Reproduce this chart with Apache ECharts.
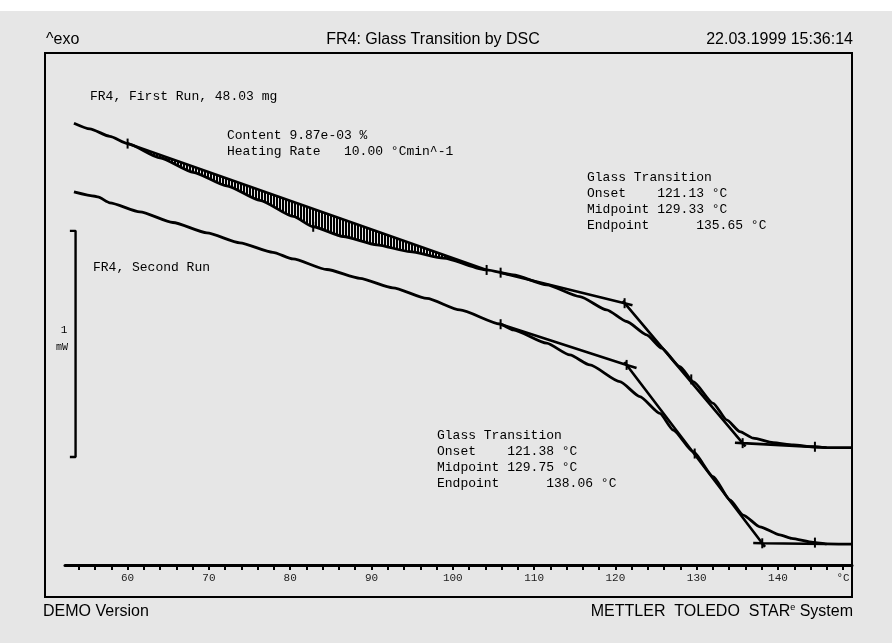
<!DOCTYPE html>
<html>
<head>
<meta charset="utf-8">
<script src="https://cdn.jsdelivr.net/npm/echarts@6/dist/echarts.min.js"></script>
<style>
  html, body { margin: 0; padding: 0; background: #e6e6e6; }
  #chart { width: 892px; height: 643px; }
</style>
</head>
<body>
<div id="chart"></div>
<script>
// ---- DSC heat-flow curves (temperature in °C, heat flow in mW, exo up) ----
const run1T  = [53.40, 55.36, 57.82, 60.00, 63.97, 68.07, 72.18, 76.27, 80.37, 82.83, 86.52, 90.63, 94.72, 98.82, 104.16,
                107.43, 111.54, 115.63, 118.92, 121.38, 123.84, 125.68, 127.93, 129.57, 132.03, 133.68, 135.31, 136.95,
                139.41, 141.87, 144.33, 145.98, 149.09];
const run1HF = [1.954, 1.929, 1.896, 1.864, 1.801, 1.737, 1.677, 1.613, 1.542, 1.496, 1.453, 1.416, 1.386, 1.357, 1.305,
                1.283, 1.239, 1.187, 1.128, 1.077, 1.018, 0.959, 0.877, 0.811, 0.715, 0.642, 0.590, 0.561,
                0.541, 0.531, 0.523, 0.519, 0.519];

const run2T  = [53.40, 55.98, 56.35, 57.82, 61.51, 65.57, 69.75, 73.81, 77.87, 80.33, 84.51, 88.57, 92.63, 96.81, 100.87,
                105.79, 107.43, 111.54, 114.40, 116.86, 120.55, 123.01, 125.47, 127.11, 129.57, 132.03, 134.08, 135.72,
                137.77, 140.23, 141.67, 144.33, 145.98, 149.09];
const run2HF = [1.650, 1.631, 1.628, 1.602, 1.562, 1.515, 1.469, 1.425, 1.383, 1.354, 1.307, 1.268, 1.226, 1.179, 1.128,
                1.066, 1.040, 0.981, 0.929, 0.885, 0.811, 0.745, 0.671, 0.597, 0.501, 0.391, 0.288, 0.221,
                0.169, 0.133, 0.118, 0.100, 0.093, 0.092];

// Content integration baseline on the first run
const integT  = [60.00, 104.16];
const integHF = [1.864, 1.305];

// Glass transition construction, first run (onset 121.13, midpoint 129.33, endpoint 135.65)
const gt1BaseT = [105.88, 121.13, 122.10];
const gt1BaseHF = [1.293, 1.158, 1.149];
const gt1TanT  = [120.90, 121.13, 135.65, 136.00];
const gt1TanHF = [1.168, 1.158, 0.539, 0.524];
const gt1EndT  = [134.70, 135.65, 145.98];
const gt1EndHF = [0.541, 0.539, 0.519];

// Glass transition construction, second run (onset 121.38, midpoint 129.75, endpoint 138.06)
const gt2BaseT = [105.88, 121.38, 122.60];
const gt2BaseHF = [1.065, 0.885, 0.871];
const gt2TanT  = [121.10, 121.38, 138.06, 138.40];
const gt2TanHF = [0.898, 0.885, 0.096, 0.080];
const gt2EndT  = [136.95, 138.06, 145.98];
const gt2EndHF = [0.097, 0.096, 0.093];

// Evaluation limit / characteristic point marks [T, HF]
const markPts = [
  [60.00, 1.864], [82.83, 1.496], [104.16, 1.305], [105.88, 1.293], [121.13, 1.158], [129.33, 0.821], [135.65, 0.539], [144.54, 0.523],
  [105.88, 1.065], [121.38, 0.885], [129.75, 0.493], [138.06, 0.096], [144.54, 0.099]
];

// 1 mW scale bar
const scaleT  = [52.90, 53.60, 53.60, 52.90];
const scaleHF = [1.478, 1.478, 0.478, 0.478];

// Temperature axis ticks and labels
const tickValues = [54, 56, 58, 60, 62, 64, 66, 68, 70, 72, 74, 76, 78, 80, 82, 84, 86, 88, 90, 92, 94, 96, 98, 100,
                    102, 104, 106, 108, 110, 112, 114, 116, 118, 120, 122, 124, 126, 128, 130, 132, 134, 136, 138,
                    140, 142, 144, 146, 148];
const labelValues = [60, 70, 80, 90, 100, 110, 120, 130, 140, 148];
const unitLabelAt = 148;

const zip = (a, b) => a.map((v, i) => [v, b[i]]);

// vertical hatch pattern for the integrated area
const hatch = document.createElement('canvas');
hatch.width = 3; hatch.height = 4;
const hctx = hatch.getContext('2d');
hctx.fillStyle = '#000';
hctx.fillRect(0, 0, 2, 4);

const MONO = "'Liberation Mono', 'Courier New', monospace";
const SANS = "'Liberation Sans', Arial, Helvetica, sans-serif";

function curve(t, hf, width, smooth) {
  return {
    type: 'line', data: zip(t, hf), showSymbol: false, smooth: smooth ? 0.2 : false,
    smoothMonotone: 'x', silent: true, animation: false, z: 3,
    lineStyle: { color: '#000', width: width }
  };
}

function txt(text, x, y, opts) {
  return {
    type: 'text', x: x, y: y, silent: true, z: 10,
    style: Object.assign({ text: text, font: '13px ' + MONO, fill: '#000', align: 'left', verticalAlign: 'middle' }, opts || {})
  };
}

const chart = echarts.init(document.getElementById('chart'));
chart.setOption({
  backgroundColor: '#e6e6e6',
  animation: false,
  grid: { left: 65, right: 40, top: 45, bottom: 78 },
  xAxis: {
    type: 'value', min: 52.3, max: 149.1,
    axisLine: { show: true, onZero: false, lineStyle: { color: '#000', width: 3 } },
    axisTick: { show: true, customValues: tickValues, length: 5, lineStyle: { color: '#000', width: 2 } },
    axisLabel: {
      customValues: labelValues, margin: 8, color: '#222', fontFamily: MONO, fontSize: 11,
      formatter: v => (v === unitLabelAt ? '°C' : String(v))
    },
    splitLine: { show: false }
  },
  yAxis: { type: 'value', min: 0, max: 2.3, show: false },
  series: [
    {
      type: 'custom', data: [[integT[0], integHF[0]]], silent: true, animation: false, z: 2,
      renderItem: (params, api) => {
        const pts = [];
        run1T.forEach((t, i) => {
          if (t >= integT[0] && t <= integT[1]) pts.push(api.coord([t, run1HF[i]]));
        });
        pts.push(api.coord([integT[1], integHF[1]]));
        pts.push(api.coord([integT[0], integHF[0]]));
        return { type: 'polygon', shape: { points: pts }, style: { fill: { image: hatch, repeat: 'repeat' }, stroke: null } };
      }
    },
    curve(run1T, run1HF, 2.8, true),
    curve(run2T, run2HF, 2.8, true),
    curve(integT, integHF, 2.6),
    curve(gt1BaseT, gt1BaseHF, 2.6),
    curve(gt1TanT, gt1TanHF, 2.6),
    curve(gt1EndT, gt1EndHF, 2.6),
    curve(gt2BaseT, gt2BaseHF, 2.6),
    curve(gt2TanT, gt2TanHF, 2.6),
    curve(gt2EndT, gt2EndHF, 2.6),
    curve(scaleT, scaleHF, 2.4),
    {
      type: 'custom', data: markPts, silent: true, animation: false, z: 4,
      renderItem: (params, api) => {
        const c = api.coord([api.value(0), api.value(1)]);
        return { type: 'line', shape: { x1: c[0], y1: c[1] - 5, x2: c[0], y2: c[1] + 5 }, style: { stroke: '#000', lineWidth: 2 } };
      }
    }
  ],
  graphic: [
    { type: 'rect', shape: { x: 0, y: 0, width: 892, height: 11 }, style: { fill: '#fff' }, silent: true, z: 0 },
    { type: 'rect', shape: { x: 45, y: 53, width: 807, height: 544 }, style: { fill: null, stroke: '#000', lineWidth: 2 }, silent: true, z: 1 },
    txt('^exo', 46, 40, { font: '16px ' + SANS }),
    txt('FR4: Glass Transition by DSC', 433, 40, { font: '16px ' + SANS, align: 'center' }),
    txt('22.03.1999 15:36:14', 853, 40, { font: '16px ' + SANS, align: 'right' }),
    txt('DEMO Version', 43, 612, { font: '16px ' + SANS }),
    {
      type: 'text', x: 853, y: 612, silent: true, z: 10,
      style: {
        text: '{a|METTLER  TOLEDO  STAR}{s|e}{a| System}', align: 'right', verticalAlign: 'middle',
        rich: {
          a: { font: '16px ' + SANS, fill: '#000' },
          s: { font: '9px ' + SANS, fill: '#000', verticalAlign: 'top', padding: [0, 0, 8, 0] }
        }
      }
    },
    txt('1', 64, 330, { font: '11px ' + MONO, align: 'center' }),
    txt('mW', 62, 347, { font: '10px ' + MONO, align: 'center' }),
    txt('FR4, First Run, 48.03 mg', 90, 97),
    txt('Content 9.87e-03 %', 227, 136),
    txt('Heating Rate   10.00 °Cmin^-1', 227, 152),
    txt('FR4, Second Run', 93, 268),
    txt('Glass Transition', 587, 178),
    txt('Onset    121.13 °C', 587, 194),
    txt('Midpoint 129.33 °C', 587, 210),
    txt('Endpoint      135.65 °C', 587, 226),
    txt('Glass Transition', 437, 436),
    txt('Onset    121.38 °C', 437, 452),
    txt('Midpoint 129.75 °C', 437, 468),
    txt('Endpoint      138.06 °C', 437, 484)
  ]
});
</script>
</body>
</html>
